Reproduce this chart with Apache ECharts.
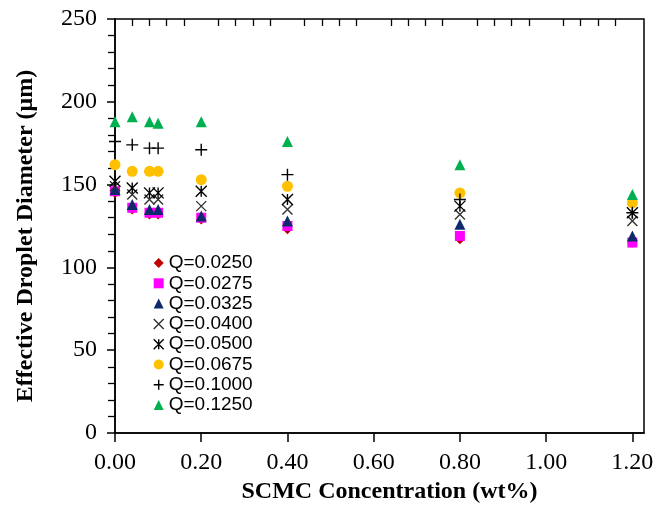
<!DOCTYPE html>
<html>
<head>
<meta charset="utf-8">
<script src="https://cdn.jsdelivr.net/npm/echarts@6/dist/echarts.min.js"></script>
<style>
  html, body { margin: 0; padding: 0; background: #fff; }
  #chart { width: 654px; height: 506px; }
</style>
</head>
<body>
<div id="chart"></div>
<script>
// SCMC concentration (wt%) at which droplet diameters were measured
const concentration = [0, 0.04, 0.08, 0.1, 0.2, 0.4, 0.8, 1.2];

// Effective droplet diameter (µm) for each flow rate Q
const q0250 = [145, 135, 132, 132, 129, 123, 117, 115];
const q0275 = [146, 136, 133, 133, 130, 125, 119, 115];
const q0325 = [147, 138, 135, 135, 131, 128, 126, 119];
const q0400 = [149, 144, 141, 141, 137, 135, 132, 128];
const q0500 = [152, 148, 145, 145, 146, 141, 137, 133];
const q0675 = [162, 158, 158, 158, 153, 149, 145, 139];
const q1000 = [176, 174, 172, 172, 171, 156, 141, 133];
const q1250 = [188, 191, 188, 187, 188, 176, 162, 144];

const seriesNames = ['Q=0.0250', 'Q=0.0275', 'Q=0.0325', 'Q=0.0400',
                     'Q=0.0500', 'Q=0.0675', 'Q=0.1000', 'Q=0.1250'];

// Axis tick labels
const xTicks = [0, 0.2, 0.4, 0.6, 0.8, 1.0, 1.2];
const yTicks = [0, 50, 100, 150, 200, 250];

// minor x ticks: four between each pair of labelled ticks
const xMinor = [];
for (let i = 0; i + 1 < xTicks.length; i++) {
  const step = (xTicks[i + 1] - xTicks[i]) / 5;
  for (let k = 1; k < 5; k++) xMinor.push(+(xTicks[i] + k * step).toFixed(4));
}

const X_MAX = 1.227;

const pairs = ys => concentration.map((c, i) => [c, ys[i]]);

const crossPath = 'path://M0,0L10,10M0,10L10,0';
const starPath = 'path://M0,0L10,10M0,10L10,0M5,0L5,10';
const plusPath = 'path://M5,0L5,10M0,5L10,5';

const markers = [
  { data: q0250, symbol: 'diamond',  size: 10, color: '#C00000' },
  { data: q0275, symbol: 'rect',     size: 10, color: '#FF00FF' },
  { data: q0325, symbol: 'triangle', size: 11, color: '#0E2A6B' },
  { data: q0400, symbol: crossPath,  size: 10, color: '#333333', stroke: true },
  { data: q0500, symbol: starPath,   size: 11, color: '#000000', stroke: true },
  { data: q0675, symbol: 'circle',   size: 11, color: '#FFC000' },
  { data: q1000, symbol: plusPath,   size: 12, color: '#000000', stroke: true },
  { data: q1250, symbol: 'triangle', size: 11, color: '#00B050' }
];

const series = markers.map((m, i) => ({
  name: seriesNames[i],
  type: 'scatter',
  xAxisIndex: 0,
  yAxisIndex: 0,
  symbol: m.symbol,
  symbolSize: m.size,
  data: pairs(m.data),
  itemStyle: m.stroke
    ? { color: m.color, borderColor: m.color, borderWidth: 1.4, opacity: 1 }
    : { color: m.color, opacity: 1 },
  emphasis: { disabled: true }
}));

const legendData = markers.map((m, i) => {
  const item = { name: seriesNames[i] };
  if (m.stroke) item.itemStyle = { color: m.color, borderColor: m.color, borderWidth: 1.4 };
  return item;
});

const serif = 'Liberation Serif';
const tickLabelStyle = { fontFamily: serif, fontSize: 24, color: '#000' };

const option = {
  animation: false,
  backgroundColor: '#fff',
  grid: {
    left: 115, right: 10, top: 19, bottom: 73,
    containLabel: false,
    outerBoundsMode: 'none',
    show: true,
    borderColor: '#000',
    borderWidth: 1.5,
    backgroundColor: 'transparent'
  },
  legend: {
    orient: 'vertical',
    left: 153,
    top: 253,
    itemWidth: 10,
    itemHeight: 10,
    itemGap: 0.3,
    padding: 0,
    data: legendData,
    textStyle: { fontFamily: 'Liberation Sans', fontSize: 19, lineHeight: 20, color: '#000' },
    selectedMode: false
  },
  xAxis: [
    {
      type: 'value', min: 0, max: X_MAX,
      name: 'SCMC Concentration (wt%)',
      nameLocation: 'middle',
      nameGap: 44,
      nameTextStyle: { fontFamily: serif, fontSize: 24, fontWeight: 'bold', color: '#000', padding: [0, 0, 0, 20] },
      axisLine: { show: true, lineStyle: { color: '#000', width: 1.5 } },
      axisTick: { show: true, inside: false, length: 9, customValues: xTicks, lineStyle: { color: '#000', width: 1.5 } },
      axisLabel: Object.assign({ show: true, margin: 18, customValues: xTicks, formatter: v => v.toFixed(2) }, tickLabelStyle),
      splitLine: { show: false }
    },
    {
      type: 'value', min: 0, max: X_MAX,
      axisLine: { show: false },
      axisTick: { show: true, inside: true, length: 9, customValues: xTicks, lineStyle: { color: '#000', width: 1.5 } },
      axisLabel: { show: false },
      splitLine: { show: false }
    },
    {
      type: 'value', min: 0, max: X_MAX,
      axisLine: { show: false },
      axisTick: { show: true, inside: true, length: 7, customValues: xMinor, lineStyle: { color: '#000', width: 1.3 } },
      axisLabel: { show: false },
      splitLine: { show: false }
    }
  ],
  yAxis: [
    {
      type: 'value', min: yTicks[0], max: yTicks[yTicks.length - 1], interval: 50,
      name: 'Effective Droplet Diameter (\u03bcm)',
      nameLocation: 'middle',
      nameGap: 77,
      nameRotate: 90,
      nameTextStyle: { fontFamily: serif, fontSize: 24, fontWeight: 'bold', color: '#000', padding: [0, 20, 0, 0] },
      axisLine: { show: true, lineStyle: { color: '#000', width: 1.5 } },
      axisTick: { show: true, inside: false, length: 8, lineStyle: { color: '#000', width: 1.5 } },
      axisLabel: Object.assign({ show: true, margin: 18 }, tickLabelStyle),
      splitLine: { show: false }
    },
    {
      type: 'value', min: yTicks[0], max: yTicks[yTicks.length - 1], interval: 50,
      axisLine: { show: false },
      axisTick: { show: true, inside: true, length: 8, lineStyle: { color: '#000', width: 1.5 } },
      minorTick: { show: true, splitNumber: 5, length: 7, lineStyle: { color: '#000', width: 1.3 } },
      axisLabel: { show: false },
      splitLine: { show: false },
      minorSplitLine: { show: false }
    }
  ],
  series: series
};

const chart = echarts.init(document.getElementById('chart'), null, { renderer: 'canvas' });
chart.setOption(option);
</script>
</body>
</html>
